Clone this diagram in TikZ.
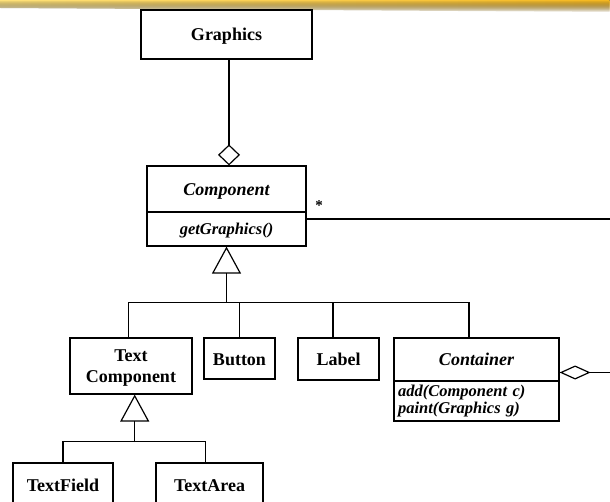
\documentclass[tikz,border=0pt]{standalone}
\usepackage{fontspec}
\setmainfont{Liberation Serif}
\usetikzlibrary{arrows.meta,fadings}
\definecolor{bandlight}{HTML}{FFE27A}
\definecolor{banddark}{HTML}{F5B820}
\tikzfading[name=bandfade, top color=transparent!0, bottom color=transparent!100]
\begin{document}
\begin{tikzpicture}[x=1pt,y=-1pt,line width=1.2pt,
  cls/.style={draw, inner sep=0pt, font=\bfseries\fontsize{18}{21}\selectfont,
    text height=13pt, text depth=0pt},
  ops/.style={draw, inner sep=0pt, font=\bfseries\itshape\fontsize{16.5}{17.5}\selectfont},
  gen/.style={-{Triangle[open,length=27pt,width=29pt]}},
  agg/.style={-{Diamond[open,length=21pt,width=22pt]}},
]
% page and decorative band
\fill[white] (0,0) rectangle (610,502);
\useasboundingbox (0,0) rectangle (610,502);
\clip (0,0) rectangle (610,502);
\fill[left color=bandlight, right color=banddark, path fading=bandfade]
  (0,0) -- (610,0) -- (610,12) -- (0,8) -- cycle;

% classes
\node[cls, minimum width=171pt, minimum height=49pt] (graphics) at (226.5,34.5) {Graphics};
\node[cls, font=\bfseries\itshape\fontsize{18}{21}\selectfont, minimum width=159pt, minimum height=46pt]
  (compname) at (226.5,189) {Component};
\node[ops, minimum width=159pt, minimum height=34pt, text height=12pt, text depth=0pt]
  (compops) at (226.5,229) {getGraphics()};

\node[draw, inner sep=0pt, font=\bfseries\fontsize{18}{21.5}\selectfont, align=center,
  text depth=0pt, minimum width=122pt, minimum height=56pt] (textcomp) at (131,366) {Text\\Component};
\node[cls, minimum width=71pt, minimum height=41pt] (button) at (239.5,358.5) {Button};
\node[cls, minimum width=81pt, minimum height=42pt] (label) at (338.5,359) {Label};
\node[cls, font=\bfseries\itshape\fontsize{18}{21}\selectfont, minimum width=165pt, minimum height=43pt, text height=12pt]
  (contname) at (476.5,359.5) {Container};
\node[ops, minimum width=165pt, minimum height=40pt, text width=157pt, align=left]
  (contops) at (476.5,401) {add(Component c)\\paint(Graphics g)};

\node[cls, minimum width=100pt, minimum height=44pt] (textfield) at (63,485) {TextField};
\node[cls, minimum width=107pt, minimum height=44pt] (textarea) at (209.5,485) {TextArea};

% multiplicity
\node[font=\bfseries\fontsize{15}{15}\selectfont, inner sep=0pt, anchor=base] (mult) at (319,211) {*};

% junction points
\coordinate (j1) at (226.5,303);
\coordinate (j2) at (134.7,442);
\coordinate (r1) at (625,219);

% Graphics aggregated by Component
\draw[agg] ([xshift=2.5pt]graphics.south) -- ([xshift=2.5pt]compname.north);

% Component generalisation
\draw[gen] (j1) -- (compops.south);
\draw ([xshift=-2.3pt]textcomp.north) -- ++(0,-35) -| ([xshift=-7.5pt]contname.north);
\draw (button.north) -- (button.north |- j1);
\draw ([xshift=-5.5pt]label.north) -- ++(0,-35.6);

% TextComponent generalisation
\draw[gen] (j2) -- ([xshift=3.7pt]textcomp.south);
\draw (textfield.north) -- ++(0,-21) -| ([xshift=-3.8pt]textarea.north);

% Container aggregates Components
\draw[{Diamond[open,length=31pt,width=14pt]}-] ([yshift=-13pt]contname.east) -| (r1)
  -- ([yshift=10pt]compops.east);
\end{tikzpicture}
\end{document}
